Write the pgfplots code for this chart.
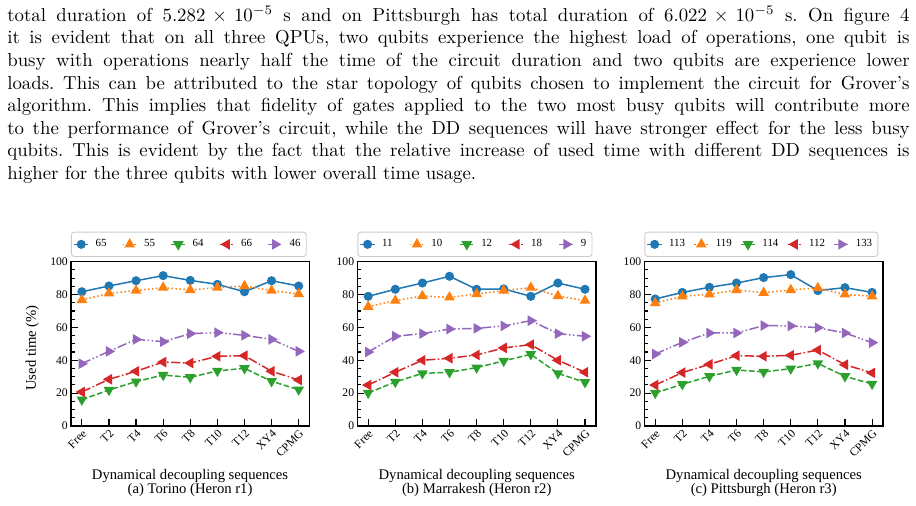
\documentclass[border=0pt]{standalone}
\usepackage{fontspec}
\usepackage{pgfplots}
\usepackage{pgfplotstable}
\pgfplotsset{compat=1.18}
\newfontfamily\chartfont{Liberation Serif}

\definecolor{c1}{HTML}{1F77B4}
\definecolor{c2}{HTML}{FF7F0E}
\definecolor{c3}{HTML}{2CA02C}
\definecolor{c4}{HTML}{D62728}
\definecolor{c5}{HTML}{9467BD}

% used time (%) per qubit for each DD sequence
\pgfplotstableread{
x  a    b    c    d    e
0  81.7 76.7 16.0 20.7 37.9
1  85.2 80.7 21.9 28.4 45.4
2  88.4 82.4 27.0 33.3 52.7
3  91.5 84.2 31.0 38.9 51.3
4  88.6 82.8 29.6 38.3 56.2
5  86.2 84.2 33.5 42.4 56.8
6  81.7 85.2 35.1 42.8 55.2
7  88.4 82.4 27.2 33.3 52.7
8  85.2 80.3 22.1 28.0 45.4
}\torino
\pgfplotstableread{
x  a    b    c    d    e
0  78.9 72.6 20.1 24.9 45.0
1  83.2 76.3 26.8 32.7 54.6
2  87.0 79.1 32.0 40.0 56.2
3  91.1 78.3 32.7 41.2 59.0
4  83.2 80.3 35.5 43.2 59.4
5  83.4 82.4 39.6 47.5 60.9
6  78.9 84.2 43.6 49.5 64.1
7  87.0 79.1 32.0 40.0 56.2
8  83.2 76.3 26.6 32.7 54.6
}\marrakesh
\pgfplotstableread{
x  a    b    c    d    e
0  77.3 74.8 20.1 24.9 43.8
1  81.3 78.9 25.4 32.5 50.9
2  84.4 80.1 30.2 37.5 56.6
3  87.0 82.8 34.1 42.8 56.6
4  90.3 81.1 32.9 42.4 61.1
5  92.1 82.8 34.9 43.0 60.9
6  82.4 84.0 38.1 46.2 59.8
7  84.2 80.1 30.2 37.3 56.6
8  81.3 78.9 25.6 32.3 50.7
}\pittsburgh

\pgfplotsset{
  ddaxis/.style={
    scale only axis, width=126.9pt, height=87.4pt,
    xmin=-0.4, xmax=8.4, ymin=0, ymax=100,
    xtick={0,...,8},
    xticklabels={Free,T2,T4,T6,T8,T10,T12,XY4,CPMG},
    ytick={0,20,...,100}, minor y tick num=3,
    tick align=inside, tick pos=left,
    major tick length=3.7pt, minor tick length=2.1pt,
    every tick/.style={black, line width=0.6pt},
    axis line style={line width=0.8pt},
    /pgf/number format/assume math mode=true,
    ticklabel style={font=\chartfont\fontsize{6.2}{7}\selectfont},
    xticklabel style={rotate=45, anchor=north east, inner sep=1pt},
    yticklabel style={inner sep=1.5pt},
    legend columns=5,
    legend style={
      at={(0,1)}, anchor=south west, yshift=2.5pt,
      font=\chartfont\fontsize{5.8}{6.5}\selectfont,
      draw=black!20, rounded corners=1.5pt, line width=0.5pt,
      inner xsep=1pt, inner ysep=1.8pt,
    },
    legend image code/.code={
      \draw[mark repeat=2, mark phase=2]
        plot coordinates {(0pt,0pt) (3.8pt,0pt) (7.6pt,0pt)};
    },
    every axis plot/.append style={line width=0.8pt},
  },
  % spacing between legend entries, chosen per panel so the box spans the axis
  legsep/.style={legend style={/tikz/every even column/.append style={column sep=#1}}},
  s1/.style={c1, solid, mark=*, mark size=2pt, mark options={solid, fill=c1}},
  s2/.style={c2, dash pattern=on 0.8pt off 1.3pt, mark=triangle*, mark size=2.5pt, mark options={solid, fill=c2}},
  s3/.style={c3, dash pattern=on 3pt off 1.3pt, mark=triangle*, mark size=2.5pt, mark options={solid, fill=c3, rotate=180}},
  s4/.style={c4, dash pattern=on 5pt off 1.3pt on 0.8pt off 1.3pt, mark=triangle*, mark size=2.5pt, mark options={solid, fill=c4, rotate=90}},
  s5/.style={c5, dash pattern=on 5pt off 1.3pt on 0.8pt off 1.3pt on 0.8pt off 1.3pt, mark=triangle*, mark size=2.5pt, mark options={solid, fill=c5, rotate=-90}},
}

\newcommand{\lab}[1]{\hspace{1.5pt}#1}

\begin{document}
\begin{tikzpicture}
\path[use as bounding box] (0pt,0pt) rectangle (487.3pt,-268.7pt);

% running text above the figure
\node[anchor=base west, inner sep=0pt] at (3.7pt,-11.4pt) {\parbox[t]{480pt}{\frenchspacing
total duration of $5.282\times10^{-5}$ s and on Pittsburgh has total duration of $6.022\times10^{-5}$ s. On figure 4\linebreak
it is evident that on all three QPUs, two qubits experience the highest load of operations, one qubit is\linebreak
busy with operations nearly half the time of the circuit duration and two qubits are experience lower\linebreak
loads. This can be attributed to the star topology of qubits chosen to implement the circuit for Grover's\linebreak
algorithm. This implies that fidelity of gates applied to the two most busy qubits will contribute more\linebreak
to the performance of Grover's circuit, while the DD sequences will have stronger effect for the less busy\linebreak
qubits. This is evident by the fact that the relative increase of used time with different DD sequences is\linebreak
higher for the three qubits with lower overall time usage.}};

% (a) Torino
\begin{axis}[ddaxis, legsep=6.1pt, at={(37.77pt,-226.6pt)}, anchor=south west]
\addplot[s1] table[x=x,y=a]{\torino};
\addplot[s2] table[x=x,y=b]{\torino};
\addplot[s3] table[x=x,y=c]{\torino};
\addplot[s4] table[x=x,y=d]{\torino};
\addplot[s5] table[x=x,y=e]{\torino};
\legend{\lab{65},\lab{55},\lab{64},\lab{66},\lab{46}}
\end{axis}

% (b) Marrakesh
\begin{axis}[ddaxis, legsep=6.8pt, at={(190.1pt,-226.6pt)}, anchor=south west]
\addplot[s1] table[x=x,y=a]{\marrakesh};
\addplot[s2] table[x=x,y=b]{\marrakesh};
\addplot[s3] table[x=x,y=c]{\marrakesh};
\addplot[s4] table[x=x,y=d]{\marrakesh};
\addplot[s5] table[x=x,y=e]{\marrakesh};
\legend{\lab{11},\lab{10},\lab{12},\lab{18},\lab{9}}
\end{axis}

% (c) Pittsburgh
\begin{axis}[ddaxis, legsep=2.45pt, at={(342.8pt,-226.6pt)}, anchor=south west]
\addplot[s1] table[x=x,y=a]{\pittsburgh};
\addplot[s2] table[x=x,y=b]{\pittsburgh};
\addplot[s3] table[x=x,y=c]{\pittsburgh};
\addplot[s4] table[x=x,y=d]{\pittsburgh};
\addplot[s5] table[x=x,y=e]{\pittsburgh};
\legend{\lab{113},\lab{119},\lab{114},\lab{112},\lab{133}}
\end{axis}

% axis titles and sub-captions
\begin{scope}[every node/.style={font=\chartfont\fontsize{7.8}{9}\selectfont, inner sep=0pt}]
\node[rotate=90, anchor=center] at (17.2pt,-185.1pt) {Used time (\%)};
\node[anchor=base] at (101.1pt,-255.0pt) {Dynamical decoupling sequences};
\node[anchor=base] at (101.1pt,-262.4pt) {(a) Torino (Heron r1)};
\node[anchor=base] at (253.6pt,-255.0pt) {Dynamical decoupling sequences};
\node[anchor=base] at (253.6pt,-262.4pt) {(b) Marrakesh (Heron r2)};
\node[anchor=base] at (406.3pt,-255.0pt) {Dynamical decoupling sequences};
\node[anchor=base] at (406.3pt,-262.4pt) {(c) Pittsburgh (Heron r3)};
\end{scope}
\end{tikzpicture}
\end{document}
